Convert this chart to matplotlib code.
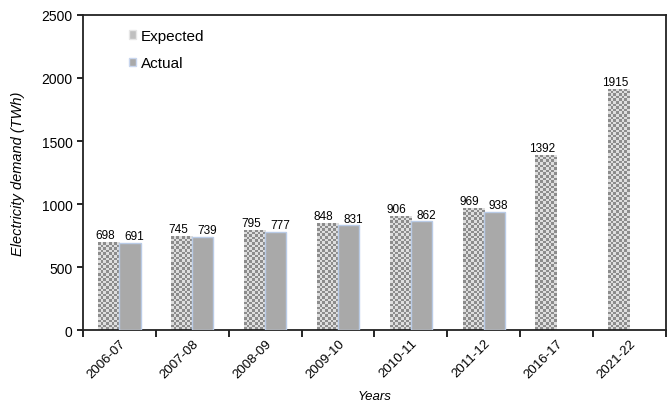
import numpy as np
import matplotlib
matplotlib.use('agg')
import matplotlib.pyplot as plt
from matplotlib.colors import ListedColormap
from matplotlib.patches import Patch, Rectangle

# electricity demand per year, TWh
years = ["2006-07", "2007-08", "2008-09", "2009-10", "2010-11", "2011-12", "2016-17", "2021-22"]
expected = [698, 745, 795, 848, 906, 969, 1392, 1915]
actual = [691, 739, 777, 831, 862, 938]

plt.rcParams['font.family'] = ['Liberation Sans', 'DejaVu Sans']

fig = plt.figure(figsize=(6.67, 4.06), dpi=100)
ax = fig.add_axes([0.1244, 0.1847, 0.874, 0.7759])

ymax = 2500
bar_w = 0.29
cell_px = 2.6
px_per_unit_y = 315 / ymax
px_per_unit_x = 583 / len(years)
checker = ListedColormap(['#8c8c8c', '#dedede'])

x = np.arange(len(years))

# expected bars: grey checkerboard clipped to each bar
for xi, val in zip(x, expected):
    x0 = xi - bar_w
    rect = Rectangle((x0, 0), bar_w, val, facecolor='none', edgecolor='none')
    ax.add_patch(rect)
    ncols = max(1, int(round(bar_w * px_per_unit_x / cell_px)))
    nrows = max(1, int(round(val * px_per_unit_y / cell_px)))
    board = np.indices((nrows, ncols)).sum(axis=0) % 2
    im = ax.imshow(board, extent=[x0, xi, 0, val], cmap=checker, vmin=0, vmax=1,
                   interpolation='nearest', aspect='auto', zorder=2)
    im.set_clip_path(rect)
    ax.text(xi - bar_w / 2 - 0.05, val + 6, str(val), ha='center', va='bottom', fontsize=8.5)

# actual bars
for xi, val in zip(x, actual):
    ax.bar(xi, val, width=bar_w, align='edge', color='#a9a9a9', edgecolor='#b9cbe6',
           linewidth=1.0, zorder=3)
    ax.text(xi + bar_w / 2 + 0.06, val + 6, str(val), ha='center', va='bottom', fontsize=8.5)

ax.set_xlim(-0.5, len(years) - 0.5)
ax.set_ylim(0, ymax)
ax.set_yticks(range(0, ymax + 1, 500))
ax.tick_params(axis='y', labelsize=10, length=4, width=1.2, direction='out')

ax.set_xticks(x)
ax.set_xticklabels(years, rotation=45, ha='right', rotation_mode='anchor', fontsize=9.5)
ax.set_xticks(np.arange(-0.5, len(years)), minor=True)
ax.tick_params(axis='x', which='major', length=0, pad=5)
ax.tick_params(axis='x', which='minor', length=5, width=1.2, direction='out')

for s in ax.spines.values():
    s.set_linewidth(1.3)
    s.set_color('#222222')

ax.set_ylabel("Electricity demand (TWh)", fontstyle='italic', fontsize=10.5, labelpad=12)
ax.set_xlabel("Years", fontstyle='italic', fontsize=9.5, labelpad=7)

handles = [Patch(facecolor='#c0c0c0', edgecolor='#e6e6e6', label='Expected'),
           Patch(facecolor='#a9a9a9', edgecolor='#c8d6ee', label='Actual')]
ax.legend(handles=handles, loc='upper left', bbox_to_anchor=(0.055, 1.0), frameon=False,
          fontsize=11, handlelength=0.5, handleheight=0.5, handletextpad=0.3,
          labelspacing=0.9)

plt.savefig("out.png", dpi=100)
plt.close(fig)
